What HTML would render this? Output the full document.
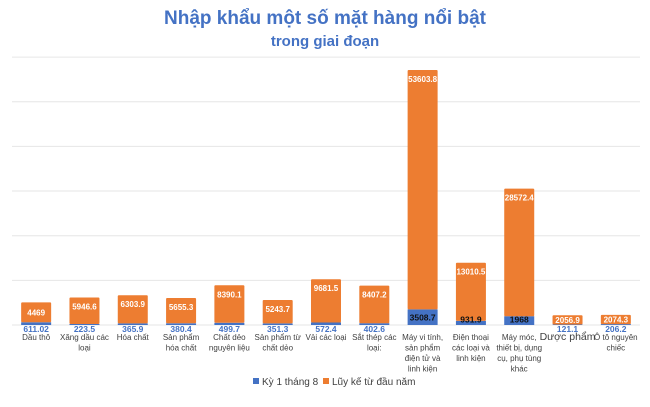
<!DOCTYPE html>
<html><head><meta charset="utf-8"><style>
body{margin:0;background:#fff;font-family:"Liberation Sans",sans-serif}
</style></head><body>
<svg id="c" width="650" height="402" xmlns="http://www.w3.org/2000/svg">
<text x="325" y="24" text-anchor="middle" font-size="19" font-weight="bold" fill="#4472c4">Nhập khẩu một số mặt hàng nổi bật</text>
<text x="325" y="46" text-anchor="middle" font-size="15" font-weight="bold" fill="#4472c4">trong giai đoạn</text>
<g id="grid"></g><g id="bars"></g><g id="labels"></g>
<g>
<rect x="253" y="378" width="6" height="6" fill="#4472c4"/>
<text x="262" y="385" font-size="10" fill="#404040">Kỳ 1 tháng 8</text>
<rect x="323" y="378" width="6" height="6" fill="#ed7d31"/>
<text x="332" y="385" font-size="10" fill="#404040">Lũy kế từ đầu năm</text>
</g>
</svg>
<script>
const categories=[["Dầu thô"],["Xăng dầu các","loại"],["Hóa chất"],["Sản phẩm","hóa chất"],["Chất dẻo","nguyên liệu"],["Sản phẩm từ","chất dẻo"],["Vải các loại"],["Sắt thép các","loại:"],["Máy vi tính,","sản phẩm","điện tử và","linh kiện"],["Điện thoại","các loại và","linh kiện"],["Máy móc,","thiết bị, dụng","cụ, phụ tùng","khác"],["Dược phẩm"],["Ô tô nguyên","chiếc"]];
const ky1=[611.02,223.5,365.9,380.4,499.7,351.3,572.4,402.6,3508.7,931.9,1968,121.1,206.2];
const luyke=[4469,5946.6,6303.9,5655.3,8390.1,5243.7,9681.5,8407.2,53603.8,13010.5,28572.4,2056.9,2074.3];
const gridTicks=[0,10000,20000,30000,40000,50000,60000];
const NS="http://www.w3.org/2000/svg";
const x0=12,x1=640,base=325,scale=255/57112;
const bw=(x1-x0)/categories.length;
const y=v=>base-v*scale;
const xc=i=>x0+bw*(i+0.5);
function mk(tag,attrs,parent,txt){const e=document.createElementNS(NS,tag);for(const k in attrs)e.setAttribute(k,attrs[k]);if(txt!==undefined)e.textContent=txt;document.getElementById(parent).appendChild(e);return e;}
gridTicks.forEach((t,i)=>{const e=mk('line',{x1:x0,x2:x1,y1:y(t),y2:y(t),stroke:'#e6e6e6','stroke-width':1},'grid');

});
const w=30;
categories.forEach((c,i)=>{
 const cx=xc(i);
 const b=mk('rect',{x:cx-w/2,y:y(ky1[i]),width:w,height:base-y(ky1[i]),fill:'#4472c4'},'bars');
 
 
 const top=y(ky1[i]+luyke[i]), bot=y(ky1[i]);
 const o=mk('rect',{x:cx-w/2,y:top,width:w,height:bot-top,fill:'#ed7d31',rx:1},'bars');
 
 
 const big=ky1[i]>900;
 const ly=big?Math.min(y(ky1[i]/2),base-6)+3.5:base+7;
 const lb=mk('text',{x:cx,y:ly,'text-anchor':'middle','font-size':8.5,'font-weight':'bold',fill:big?'#111':'#4472c4'},'labels',String(ky1[i]));
 
 
 const oy=(bot-top)<20?(top+bot)/2+3:top+12;
 const lo=mk('text',{x:cx,y:oy,'text-anchor':'middle','font-size':8,'font-weight':'bold',fill:'#fff'},'labels',String(luyke[i]));
 
 
 const fs=c[0]==='Dược phẩm'?10.5:8;
 c.forEach((line,j)=>{const t=mk('text',{x:cx,y:base+15+j*10.5,'text-anchor':'middle','font-size':fs,fill:'#404040'},'labels',line);
 
 });
});
</script>
</body></html>
